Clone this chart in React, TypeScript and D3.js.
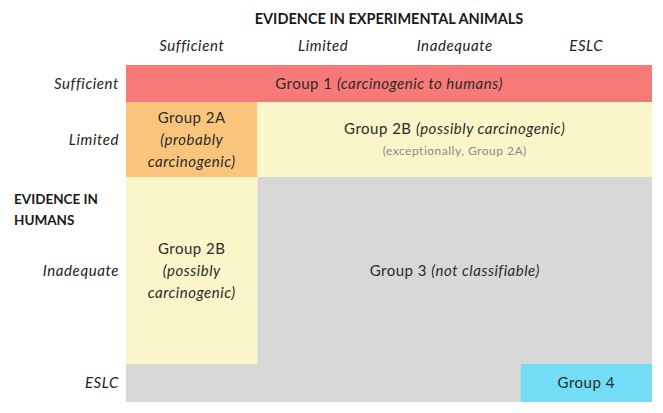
import React from "react";
import * as d3 from "d3";

// evidence categories
const animalCategories = ["Sufficient", "Limited", "Inadequate", "ESLC"];
const humanCategories = ["Sufficient", "Limited", "Inadequate", "ESLC"];

// classification blocks: row = human evidence, cols = animal evidence span
const blockGroups = ["1", "2A", "2B", "2B", "3", "3", "4"];
const blockRows = [0, 1, 1, 2, 2, 3, 3];
const blockColStart = [0, 0, 1, 0, 1, 0, 3];
const blockColEnd = [3, 0, 3, 0, 3, 2, 3];

// text inside blocks: [plain, italic] per line, empty = no label
const blockLabels: [string, string][][] = [
  [["Group 1 ", "(carcinogenic to humans)"]],
  [["Group 2A", ""], ["", "(probably"], ["", "carcinogenic)"]],
  [["Group 2B ", "(possibly carcinogenic)"]],
  [["Group 2B", ""], ["", "(possibly"], ["", "carcinogenic)"]],
  [["Group 3 ", "(not classifiable)"]],
  [],
  [["Group 4", ""]],
];
const blockNotes = ["", "", "(exceptionally,  Group 2A)", "", "", "", ""];

const groupColors: Record<string, string> = {
  "1": "#f87a78",
  "2A": "#f9c57c",
  "2B": "#faf6c9",
  "3": "#d8d8d8",
  "4": "#74ddf6",
};

const width = 663;
const height = 413;
const rowWeights = [37, 75, 187, 38];
const font = "Lato, 'Open Sans', sans-serif";

export default function App() {
  const x = d3.scaleBand<string>()
    .domain(animalCategories.map((d, i) => String(i)))
    .range([126, 652])
    .padding(0);
  const cum = [0, ...d3.cumsum(rowWeights)];
  const yTop = d3.scaleLinear().domain([0, cum[cum.length - 1]]).range([65, 402]);
  const rowY = (i: number) => yTop(cum[i]);

  const lineH = 22;

  return (
    <svg width={width} height={height} style={{ position: "absolute", left: 0, top: 0 }} fontFamily={font}>
      <rect width={width} height={height} fill="#fff" />
      <text x={389} y={24} textAnchor="middle" fontWeight="bold" fontSize={14.5} fill="#1a1a1a">
        EVIDENCE IN EXPERIMENTAL ANIMALS
      </text>
      {animalCategories.map((c, i) => (
        <text key={c} x={x(String(i))! + x.bandwidth() / 2} y={51} textAnchor="middle"
          fontStyle="italic" fontSize={15} letterSpacing={0.6} fill="#222">{c}</text>
      ))}
      {humanCategories.map((c, i) => (
        <text key={c} x={119} y={(rowY(i) + rowY(i + 1)) / 2 + 5} textAnchor="end"
          fontStyle="italic" fontSize={15} letterSpacing={0.6} fill="#222">{c}</text>
      ))}
      <text x={14} y={204} fontWeight="bold" fontSize={13.5} fill="#1a1a1a">
        <tspan x={14}>EVIDENCE IN</tspan>
        <tspan x={14} dy={21}>HUMANS</tspan>
      </text>
      {blockGroups.map((g, i) => {
        const x0 = x(String(blockColStart[i]))!;
        const x1 = x(String(blockColEnd[i]))! + x.bandwidth();
        const y0 = rowY(blockRows[i]);
        const y1 = rowY(blockRows[i] + 1);
        return (
          <rect key={"r" + i} x={x0} y={y0} width={x1 - x0} height={y1 - y0} fill={groupColors[g]} />
        );
      })}
      {blockGroups.map((g, i) => {
        const x0 = x(String(blockColStart[i]))!;
        const x1 = x(String(blockColEnd[i]))! + x.bandwidth();
        const y0 = rowY(blockRows[i]);
        const y1 = rowY(blockRows[i] + 1);
        const cx = (x0 + x1) / 2;
        const cy = (y0 + y1) / 2;
        const lines = blockLabels[i];
        const n = lines.length + (blockNotes[i] ? 1 : 0);
        const first = cy - ((n - 1) * lineH) / 2 + 5;
        return (
          <g key={"t" + i}>
            {lines.map((ln, j) => (
              <text key={j} x={cx} y={first + j * lineH} textAnchor="middle" fontSize={15}
                letterSpacing={0.5} fill="#2b2b2b">
                {ln[0] && <tspan>{ln[0]}</tspan>}
                {ln[1] && <tspan fontStyle="italic">{ln[1]}</tspan>}
              </text>
            ))}
            {blockNotes[i] && (
              <text x={cx} y={first + lines.length * lineH - 1} textAnchor="middle" fontSize={12}
                letterSpacing={0.5} fill="#8a8a8a">
                {blockNotes[i]}
              </text>
            )}
          </g>
        );
      })}
    </svg>
  );
}
